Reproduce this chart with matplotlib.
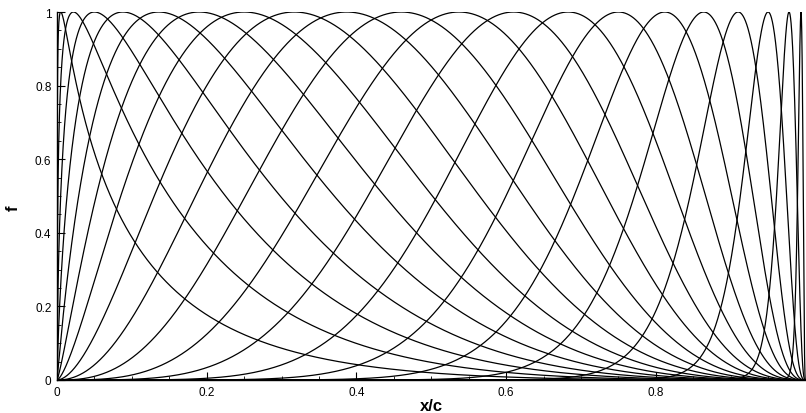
import numpy as np
import matplotlib
matplotlib.use("Agg")
import matplotlib.pyplot as plt
from matplotlib.ticker import MultipleLocator, FuncFormatter

# Peak locations of the Hicks-Henne bump functions along the chord
peak_locations = [0.005, 0.022, 0.050, 0.088, 0.136, 0.190, 0.250, 0.317,
                  0.387, 0.460, 0.537, 0.610, 0.683, 0.750, 0.812, 0.864,
                  0.910, 0.950, 0.978, 0.994]
bump_width = 3.0

x_ticks = [0, 0.2, 0.4, 0.6, 0.8]
y_ticks = [0, 0.2, 0.4, 0.6, 0.8, 1.0]

plt.rcParams['font.family'] = ['Liberation Sans', 'DejaVu Sans']

fig = plt.figure(figsize=(8.06, 4.14), dpi=100)
ax = fig.add_axes([57 / 806, 1 - 381 / 414, 748.5 / 806, 368 / 414])

x = np.linspace(0.0, 1.0, 4001)
for t in peak_locations:
    m = np.log(0.5) / np.log(t)
    f = np.sin(np.pi * x ** m) ** bump_width
    ax.plot(x, f, color='black', lw=0.9)

ax.set_xlim(0, 1)
ax.set_ylim(0, 1)
ax.set_xticks(x_ticks)
ax.set_yticks(y_ticks)
fmt = FuncFormatter(lambda v, p: f"{v:g}")
ax.xaxis.set_major_formatter(fmt)
ax.yaxis.set_major_formatter(fmt)
ax.xaxis.set_minor_locator(MultipleLocator(0.05))
ax.yaxis.set_minor_locator(MultipleLocator(0.05))
ax.tick_params(which='major', direction='in', length=6, width=0.8,
               labelsize=8.5, pad=4, top=False, right=False)
ax.tick_params(which='minor', direction='in', length=3, width=0.6,
               top=False, right=False)
for side in ('top', 'right'):
    ax.spines[side].set_visible(False)
for side in ('left', 'bottom'):
    ax.spines[side].set_linewidth(1.0)

ax.set_xlabel('x/c', fontsize=12, fontweight='bold', labelpad=0)
ax.set_ylabel('f', fontsize=12, fontweight='bold')
ax.yaxis.set_label_coords(-0.048, 0.47)

fig.savefig('out.png', dpi=100)
